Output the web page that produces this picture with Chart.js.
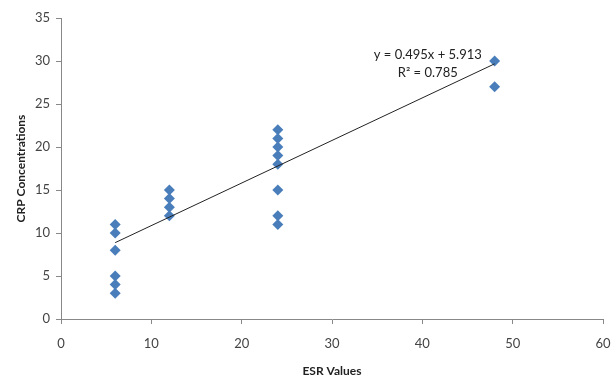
<!DOCTYPE html>
<html>
<head>
<meta charset="utf-8">
<script src="https://cdn.jsdelivr.net/npm/chart.js@4/dist/chart.umd.min.js"></script>
<style>
html,body{margin:0;padding:0;background:#fff;}
#wrap{width:613px;height:378px;position:relative;}
</style>
</head>
<body>
<div id="wrap"><canvas id="c" width="613" height="378"></canvas></div>
<script>
const esrValues = [6,6,6,6,6,6, 12,12,12,12, 24,24,24,24,24,24,24,24, 48,48];
const crpValues = [3,4,5,8,10,11, 12,13,14,15, 11,12,15,18,19,20,21,22, 27,30];
const trendX = [6, 48];
const trendY = [8.88, 29.67];
const equationLines = ["y = 0.495x + 5.913", "R\u00B2 = 0.785"];
const xTitle = "ESR Values";
const yTitle = "CRP Concentrations";

const points = esrValues.map((x,i)=>({x:x, y:crpValues[i]}));
const trend = trendX.map((x,i)=>({x:x, y:trendY[i]}));

const FONT = "Lato, 'Open Sans', sans-serif";

const labelPlugin = {
  id:'eqLabel',
  afterDatasetsDraw(chart){
    const {ctx, scales:{x,y}} = chart;
    ctx.save();
    ctx.fillStyle = '#222';
    ctx.font = "13px " + FONT;
    ctx.textAlign = 'center';
    ctx.textBaseline = 'middle';
    const px = x.getPixelForValue(40.6);
    ctx.fillText(equationLines[0], px, y.getPixelForValue(30.7));
    ctx.fillText(equationLines[1], px, y.getPixelForValue(28.6));
    ctx.restore();
  }
};

new Chart(document.getElementById('c'), {
  type:'scatter',
  data:{
    datasets:[
      {
        data: points,
        pointStyle:'rectRot',
        pointRadius:5.5,
        pointHoverRadius:5.5,
        backgroundColor:'#4a7ebb',
        borderColor:'#4a7ebb',
        borderWidth:0,
        order:2
      },
      {
        type:'line',
        data: trend,
        borderColor:'#222',
        borderWidth:1,
        pointRadius:0,
        fill:false,
        order:1
      }
    ]
  },
  options:{
    responsive:false,
    animation:false,
    layout:{padding:{top:18,right:10,left:0,bottom:0}},
    plugins:{legend:{display:false},tooltip:{enabled:false}},
    scales:{
      x:{
        type:'linear', min:0, max:60,
        afterFit(s){ s.height = 59; s.paddingRight = 0; },
        ticks:{stepSize:10, color:'#444', font:{size:13, family:FONT}, padding:12, maxRotation:0},
        grid:{drawOnChartArea:false, drawTicks:true, tickLength:5, color:'#888'},
        border:{color:'#888'},
        title:{display:true, text:xTitle, color:'#222', font:{size:12, weight:'bold', family:FONT}, padding:{top:8,bottom:0}}
      },
      y:{
        type:'linear', min:0, max:35,
        ticks:{stepSize:5, color:'#444', font:{size:13, family:FONT}, padding:6},
        grid:{drawOnChartArea:false, drawTicks:true, tickLength:5, color:'#888'},
        border:{color:'#888'},
        title:{display:true, text:yTitle, color:'#222', font:{size:12, weight:'bold', family:FONT}, padding:{top:14,bottom:0}},
        afterFit(s){ s.width = 61; }
      }
    }
  },
  plugins:[labelPlugin]
});
</script>
</body>
</html>
